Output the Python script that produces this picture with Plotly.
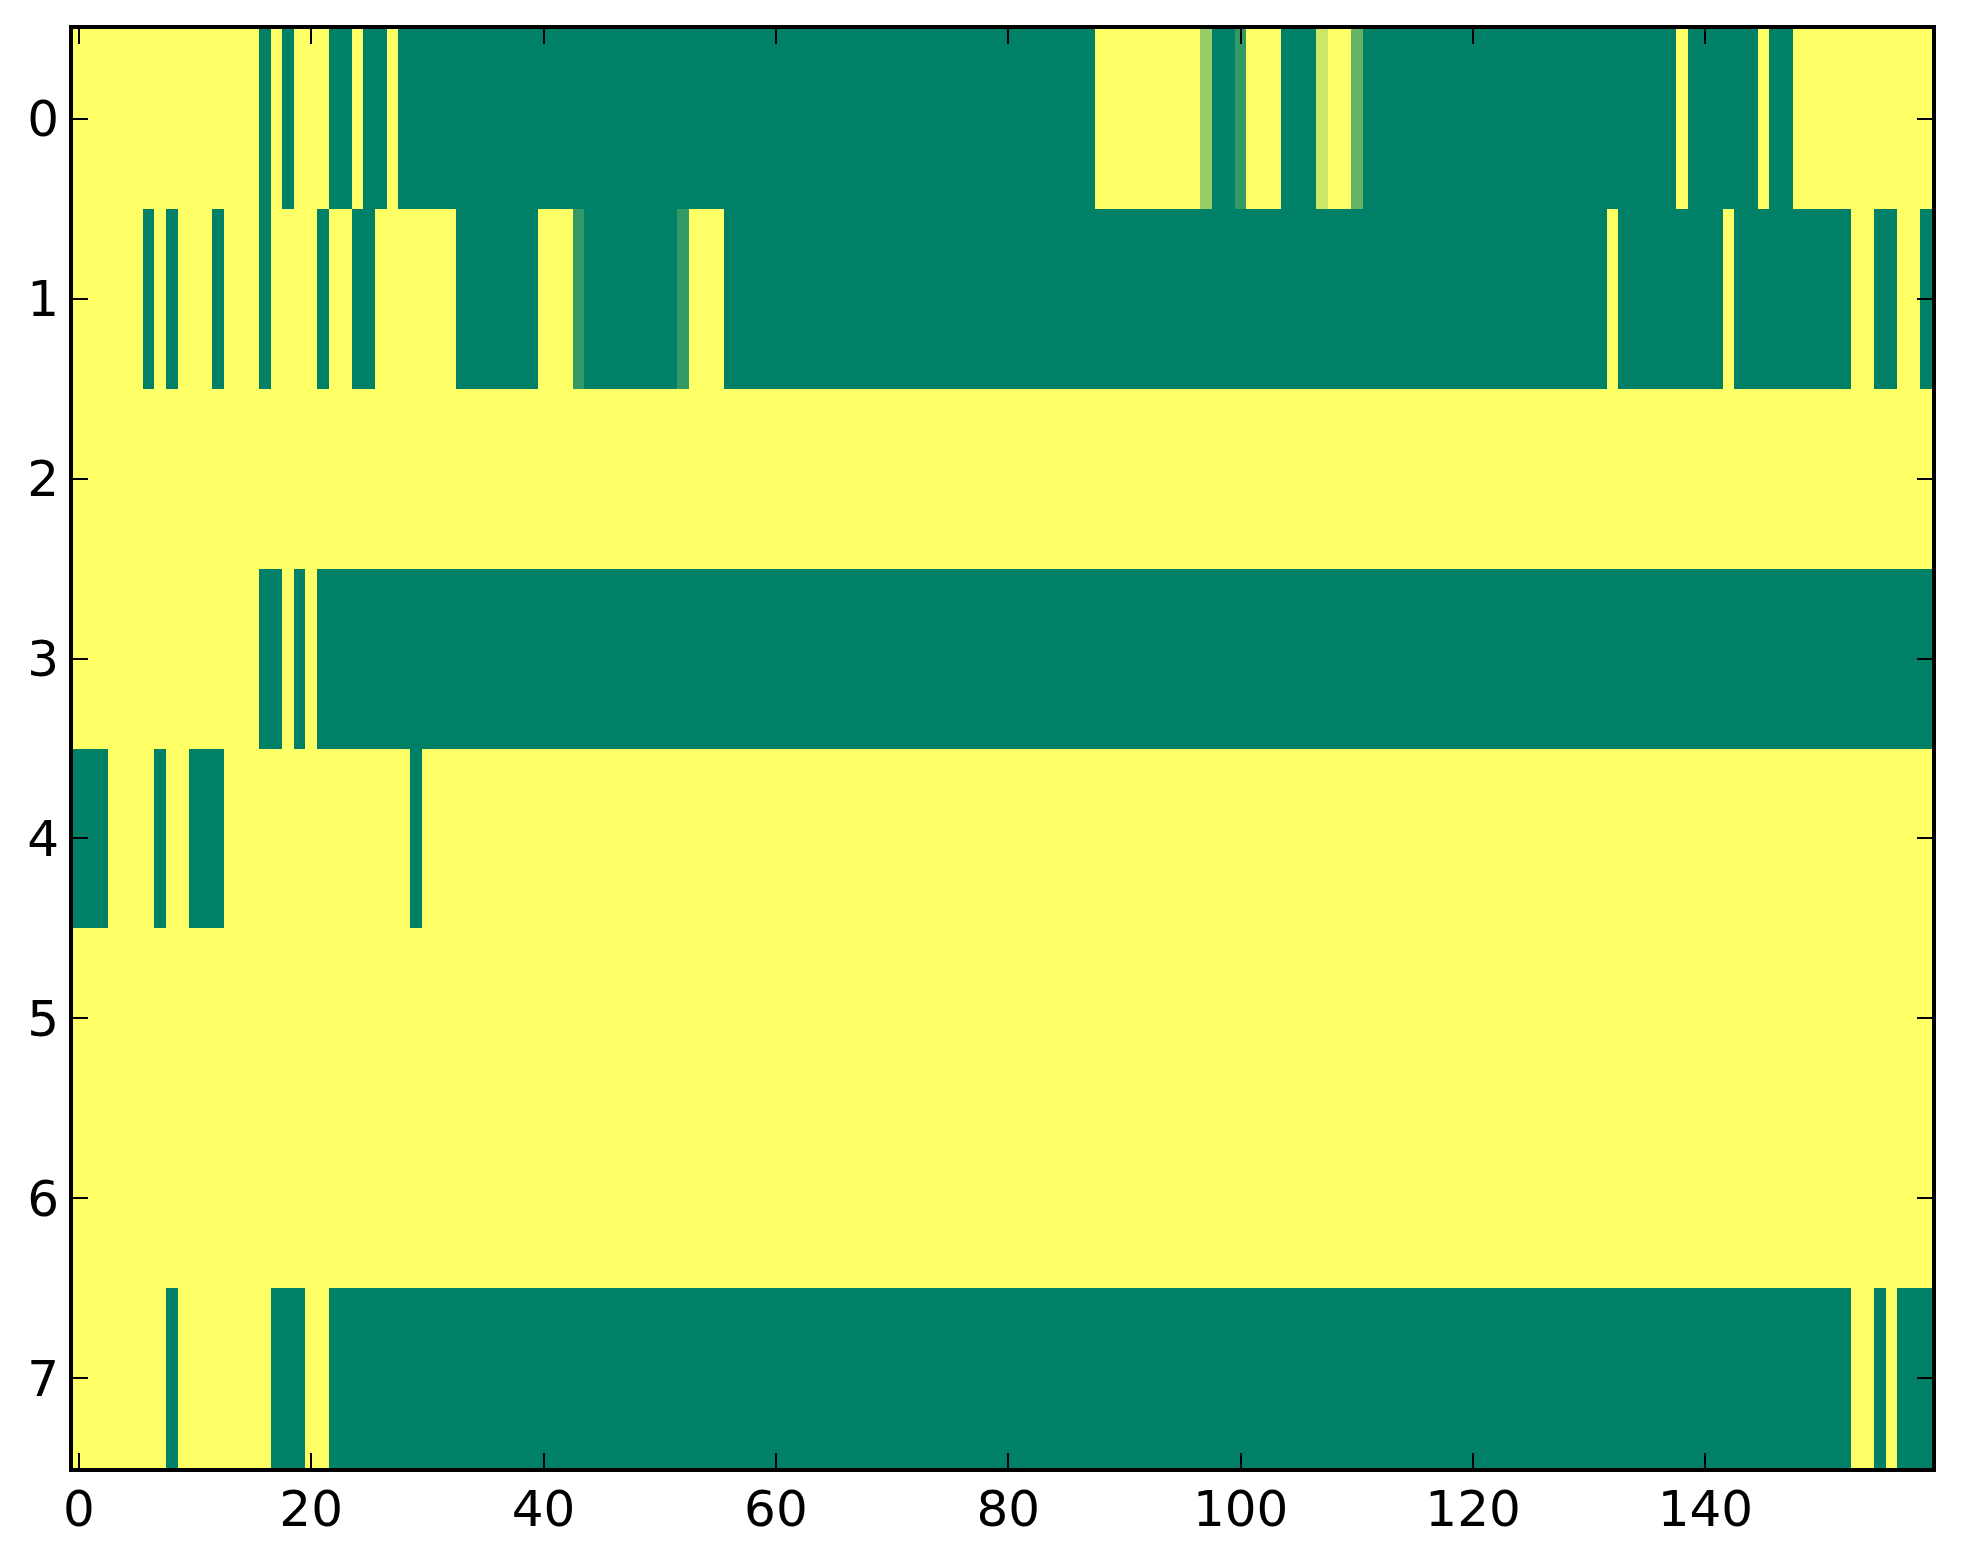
import plotly.graph_objects as go

# heatmap values, as (value, run length) pairs per row
# 0 = green end of the "summer" map, 1 = yellow end
row0 = [(1, 16), (0, 1), (1, 1), (0, 1), (1, 3), (0, 2), (1, 1), (0, 2), (1, 1),
        (0, 60), (1, 9), (0.6, 1), (0, 2), (0.2, 1), (1, 3), (0, 3), (0.8, 1),
        (1, 2), (0.4, 1), (0, 27), (1, 1), (0, 6), (1, 1), (0, 2), (1, 12)]
row1 = [(1, 6), (0, 1), (1, 1), (0, 1), (1, 3), (0, 1), (1, 3), (0, 1), (1, 4),
        (0, 1), (1, 2), (0, 2), (1, 7), (0, 7), (1, 3), (0.2, 1), (0, 8),
        (0.2, 1), (1, 3), (0, 76), (1, 1), (0, 9), (1, 1), (0, 10), (1, 2),
        (0, 2), (1, 2), (0, 1)]
row2 = [(1, 160)]
row3 = [(1, 16), (0, 2), (1, 1), (0, 1), (1, 1), (0, 139)]
row4 = [(0, 3), (1, 4), (0, 1), (1, 2), (0, 3), (1, 16), (0, 1), (1, 130)]
row5 = [(1, 160)]
row6 = [(1, 160)]
row7 = [(1, 8), (0, 1), (1, 8), (0, 3), (1, 2), (0, 131), (1, 2), (0, 1),
        (1, 1), (0, 3)]

x_ticks = [0, 20, 40, 60, 80, 100, 120, 140]
y_ticks = [0, 1, 2, 3, 4, 5, 6, 7]


def expand(runs):
    out = []
    for v, n in runs:
        out += [v] * n
    return out


z = [expand(r) for r in [row0, row1, row2, row3, row4, row5, row6, row7]]

# matplotlib "summer" colormap
summer = [[0, 'rgb(0,128,102)'], [1, 'rgb(255,255,102)']]

fig = go.Figure(go.Heatmap(z=z, colorscale=summer, zmin=0, zmax=1,
                           showscale=False))

axis_style = dict(showline=True, linewidth=4, linecolor='black', mirror='ticks',
                  ticks='inside', ticklen=15, tickwidth=2, tickcolor='black',
                  showgrid=False, zeroline=False)

fig.update_layout(
    width=1963, height=1564, autosize=False,
    margin=dict(l=73, r=31, t=29, b=96),
    paper_bgcolor='white', plot_bgcolor='white',
    font=dict(family='DejaVu Sans', size=50, color='black'),
    xaxis=dict(range=[-0.5, 159.5], tickvals=x_ticks, ticklabelstandoff=-6,
               **axis_style),
    yaxis=dict(range=[7.5, -0.5], tickvals=y_ticks, **axis_style),
)

# drop the browser's default page margin so the figure sits at 0,0
fig.write_html("out.html", config={'displayModeBar': False},
               post_script="document.body.style.margin='0';")
